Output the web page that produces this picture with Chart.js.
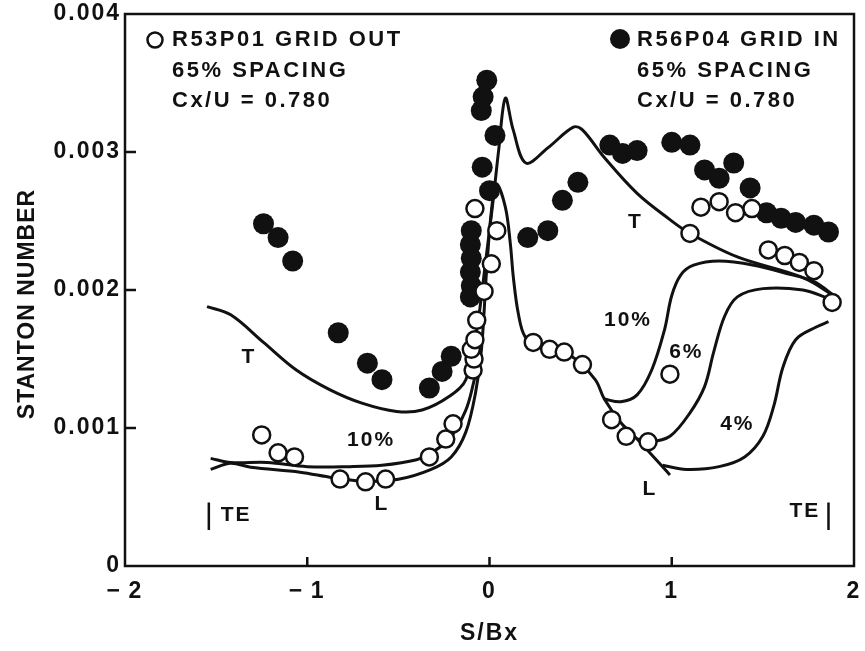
<!DOCTYPE html>
<html>
<head>
<meta charset="utf-8">
<script src="https://cdn.jsdelivr.net/npm/chart.js@4/dist/chart.umd.min.js"></script>
<style>
  html, body { margin: 0; padding: 0; background: #fff; }
  #wrap { width: 865px; height: 651px; }
</style>
</head>
<body>
<div id="wrap"><canvas id="stanton"></canvas></div>
<script>
// axes
const xTicks = [-2, -1, 0, 1, 2];
const yTicks = [0, 0.001, 0.002, 0.003, 0.004];

// R53P01 grid out (open circles)
const openX = [-1.25, -1.16, -1.07, -0.82, -0.68, -0.57, -0.33, -0.24, -0.20, -0.09, -0.085, -0.10, -0.08, -0.07, -0.03, 0.01, 0.04, -0.08,
               0.24, 0.33, 0.41, 0.51, 0.67, 0.75, 0.87, 0.99, 1.10, 1.16, 1.26, 1.35, 1.44, 1.53, 1.62, 1.70, 1.78, 1.88];
const openY = [0.00095, 0.00082, 0.00079, 0.00063, 0.00061, 0.00063, 0.00079, 0.00092, 0.00103, 0.00142, 0.00150, 0.00157, 0.00164, 0.00178, 0.00199, 0.00219, 0.00243, 0.00259,
               0.00162, 0.00157, 0.00155, 0.00146, 0.00106, 0.00094, 0.00090, 0.00139, 0.00241, 0.00260, 0.00264, 0.00256, 0.00259, 0.00229, 0.00225, 0.00220, 0.00214, 0.00191];

// R56P04 grid in (filled circles)
const fillX = [-1.24, -1.16, -1.08, -0.83, -0.67, -0.59, -0.33, -0.26, -0.21, -0.10, -0.105, -0.10, -0.105, -0.10, -0.105,
               -0.04, 0.00, -0.045, 0.03, -0.035, -0.015, 0.21, 0.32, 0.40, 0.485,
               0.66, 0.73, 0.81, 1.00, 1.10, 1.18, 1.26, 1.34, 1.43, 1.52, 1.60, 1.68, 1.78, 1.86];
const fillY = [0.00248, 0.00238, 0.00221, 0.00169, 0.00147, 0.00135, 0.00129, 0.00141, 0.00152, 0.00243, 0.00233, 0.00223, 0.00213, 0.00203, 0.00195,
               0.00289, 0.00272, 0.00330, 0.00312, 0.00340, 0.00352, 0.00238, 0.00243, 0.00265, 0.00278,
               0.00305, 0.00299, 0.00301, 0.00307, 0.00305, 0.00287, 0.00281, 0.00292, 0.00274, 0.00256, 0.00252, 0.00249, 0.00247, 0.00242];

// predicted curves: T = turbulent, L = laminar, transition at 10%, 6%, 4%
const turbX = [-1.55, -1.42, -1.24, -1.06, -0.88, -0.70, -0.51, -0.37, -0.22, -0.13, -0.07, -0.02, 0.02, 0.05, 0.087, 0.13, 0.20, 0.32, 0.46, 0.51, 0.63, 0.81, 0.99, 1.10, 1.36, 1.72, 1.90];
const turbY = [0.00188, 0.00182, 0.00162, 0.00142, 0.00128, 0.00118, 0.00112, 0.00113, 0.00123, 0.00135, 0.00171, 0.00222, 0.00265, 0.00301, 0.00339, 0.00316, 0.00292, 0.00303, 0.00318, 0.00316, 0.00296, 0.00270, 0.00251, 0.00241, 0.00224, 0.00209, 0.00195];

const lamX = [-1.53, -1.42, -1.31, -1.04, -0.86, -0.68, -0.50, -0.32, -0.21, -0.13, -0.076, -0.044, -0.016, 0.011, 0.038, 0.087, 0.114, 0.131, 0.158, 0.196, 0.27, 0.45, 0.58, 0.63, 0.72, 0.81, 0.99];
const lamY = [0.00070, 0.000745, 0.000715, 0.00068, 0.00064, 0.000614, 0.000628, 0.00070, 0.00079, 0.00097, 0.00126, 0.00157, 0.00214, 0.00258, 0.00277, 0.00260, 0.00234, 0.00209, 0.00183, 0.00166, 0.00160, 0.00152, 0.00135, 0.00121, 0.00104, 0.00092, 0.00066];

const tr10LeftX = [-1.53, -1.42, -1.22, -1.00, -0.77, -0.59, -0.40, -0.32, -0.22, -0.13, -0.087, -0.06];
const tr10LeftY = [0.00078, 0.00075, 0.00075, 0.00072, 0.00072, 0.00073, 0.00077, 0.00082, 0.00092, 0.00113, 0.00133, 0.00150];

const tr10X = [0.63, 0.72, 0.81, 0.89, 0.96, 1.00, 1.05, 1.12, 1.26, 1.45, 1.63, 1.78, 1.90];
const tr10Y = [0.00121, 0.00119, 0.00124, 0.00142, 0.00171, 0.00196, 0.00211, 0.00218, 0.00221, 0.00218, 0.00212, 0.00206, 0.00195];

const tr6X = [0.81, 0.88, 0.99, 1.10, 1.18, 1.23, 1.29, 1.36, 1.50, 1.72, 1.86];
const tr6Y = [0.00092, 0.00090, 0.00094, 0.00111, 0.00130, 0.00155, 0.00181, 0.00195, 0.00201, 0.00200, 0.00194];

const tr4X = [0.95, 1.08, 1.26, 1.40, 1.50, 1.56, 1.61, 1.68, 1.79, 1.86];
const tr4Y = [0.00073, 0.00070, 0.00072, 0.00079, 0.00094, 0.00116, 0.00144, 0.00164, 0.00173, 0.00177];

// curve labels in data units
const noteText = ["T", "10%", "L", "TE", "T", "10%", "6%", "4%", "L", "TE"];
const noteX = [-1.32, -0.65, -0.59, -1.39, 0.80, 0.76, 1.08, 1.36, 0.88, 1.73];
const noteY = [0.00151, 0.00091, 0.00045, 0.00037, 0.00249, 0.00178, 0.00155, 0.00103, 0.00056, 0.00040];
// trailing edge marks
const teX = [-1.54, 1.86];
const teTop = 0.00046, teBottom = 0.00026;

const legendLeft = ["R53P01 GRID OUT", "65% SPACING", "Cx/U = 0.780"];
const legendRight = ["R56P04 GRID IN", "65% SPACING", "Cx/U = 0.780"];

const FONT = "'Liberation Sans', Arial, Helvetica, sans-serif";
Chart.defaults.font.family = FONT;
Chart.defaults.font.weight = "bold";
Chart.defaults.color = "#111";

const pts = (xs, ys) => xs.map((x, i) => ({x: x, y: ys[i]}));

function curve(xs, ys) {
    return {
        data: pts(xs, ys),
        showLine: true,
        borderColor: "#111",
        borderWidth: 3,
        pointRadius: 0,
        tension: 0.35,
        order: 3,
    };
}

// frame, inward ticks, labels and legend text
const paperPlugin = {
    id: "paper",
    beforeDraw(chart) {
        chart.ctx.letterSpacing = "2px";
    },
    afterDraw(chart) {
        const ctx = chart.ctx;
        const a = chart.chartArea;
        const xs = chart.scales.x, ys = chart.scales.y;
        ctx.save();
        ctx.strokeStyle = "#111";
        ctx.fillStyle = "#111";
        ctx.lineWidth = 2.5;
        ctx.strokeRect(a.left, a.top, a.right - a.left, a.bottom - a.top);

        // inward tick marks
        ctx.beginPath();
        xTicks.slice(1, -1).forEach(v => {
            const px = xs.getPixelForValue(v);
            ctx.moveTo(px, a.bottom);
            ctx.lineTo(px, a.bottom - 9);
        });
        yTicks.slice(1, -1).forEach(v => {
            const py = ys.getPixelForValue(v);
            ctx.moveTo(a.left, py);
            ctx.lineTo(a.left + 11, py);
        });
        ctx.stroke();

        // y title
        ctx.save();
        ctx.letterSpacing = "1px";
        ctx.font = "bold 23px " + FONT;
        ctx.textAlign = "center";
        ctx.textBaseline = "middle";
        ctx.translate(28, 304);
        ctx.rotate(-Math.PI / 2);
        ctx.fillText("STANTON NUMBER", 0, 0);
        ctx.restore();

        // curve notes
        ctx.letterSpacing = "2px";
        ctx.font = "bold 21px " + FONT;
        ctx.textAlign = "center";
        ctx.textBaseline = "middle";
        noteText.forEach((t, i) => {
            ctx.fillText(t, xs.getPixelForValue(noteX[i]), ys.getPixelForValue(noteY[i]));
        });
        ctx.lineWidth = 2.5;
        ctx.beginPath();
        teX.forEach(v => {
            const px = xs.getPixelForValue(v);
            ctx.moveTo(px, ys.getPixelForValue(teTop));
            ctx.lineTo(px, ys.getPixelForValue(teBottom));
        });
        ctx.stroke();

        // legend blocks
        ctx.font = "bold 22px " + FONT;
        ctx.letterSpacing = "2.5px";
        ctx.textAlign = "left";
        const lineY = [40, 71, 101];
        legendLeft.forEach((t, i) => ctx.fillText(t, 172, lineY[i]));
        legendRight.forEach((t, i) => ctx.fillText(t, 637, lineY[i]));
        ctx.beginPath();
        ctx.arc(155, 40, 7.5, 0, Math.PI * 2);
        ctx.fillStyle = "#fff";
        ctx.fill();
        ctx.lineWidth = 2.5;
        ctx.stroke();
        ctx.beginPath();
        ctx.arc(620, 39, 10, 0, Math.PI * 2);
        ctx.fillStyle = "#111";
        ctx.fill();
        ctx.restore();
    }
};

new Chart("stanton", {
    type: "scatter",
    data: {
        datasets: [
            {
                label: "R53P01 GRID OUT",
                data: pts(openX, openY),
                pointRadius: 8.5,
                pointBackgroundColor: "#fff",
                pointBorderColor: "#111",
                pointBorderWidth: 2.5,
                order: 1,
            },
            {
                label: "R56P04 GRID IN",
                data: pts(fillX, fillY),
                pointRadius: 10.5,
                pointBackgroundColor: "#111",
                pointBorderColor: "#111",
                pointBorderWidth: 0,
                order: 2,
            },
            curve(turbX, turbY),
            curve(lamX, lamY),
            curve(tr10LeftX, tr10LeftY),
            curve(tr10X, tr10Y),
            curve(tr6X, tr6Y),
            curve(tr4X, tr4Y),
        ]
    },
    options: {
        responsive: true,
        maintainAspectRatio: false,
        animation: false,
        devicePixelRatio: 1,
        layout: { padding: { top: 14, right: 7, bottom: 0, left: 0 } },
        plugins: {
            legend: { display: false },
            tooltip: { enabled: false },
        },
        scales: {
            x: {
                type: "linear",
                min: -2,
                max: 2,
                grid: { display: false, drawTicks: false },
                border: { display: false },
                afterBuildTicks: (scale) => { scale.ticks = xTicks.map(v => ({value: v})); },
                afterFit: (scale) => {
                    scale.height = 85;
                    scale.paddingLeft = 0;
                    scale.paddingRight = 0;
                },
                ticks: {
                    padding: 12,
                    color: "#111",
                    font: { size: 23, weight: "bold" },
                    callback: (v) => v < 0 ? "\u2212\u2009" + Math.abs(v) : String(v),
                },
                title: {
                    display: true,
                    text: "S/Bx",
                    color: "#111",
                    font: { size: 23, weight: "bold" },
                    padding: { top: 0, bottom: 4 },
                },
            },
            y: {
                type: "linear",
                min: 0,
                max: 0.004,
                grid: { display: false, drawTicks: false },
                border: { display: false },
                afterBuildTicks: (scale) => { scale.ticks = yTicks.map(v => ({value: v})); },
                afterFit: (scale) => {
                    scale.width = 125;
                    scale.paddingTop = 0;
                    scale.paddingBottom = 0;
                },
                ticks: {
                    padding: 4,
                    color: "#111",
                    font: { size: 23, weight: "bold" },
                    callback: (v) => v === 0 ? "0" : v.toFixed(3),
                },
            },
        },
    },
    plugins: [paperPlugin],
});
</script>
</body>
</html>
